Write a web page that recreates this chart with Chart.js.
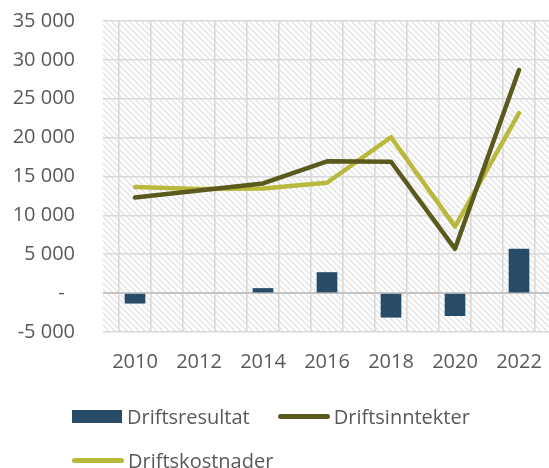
<!DOCTYPE html>
<html>
<head>
<meta charset="utf-8">
<script src="https://cdn.jsdelivr.net/npm/chart.js@4"></script>
<style>
  html, body { margin: 0; padding: 0; background: #fff; overflow: hidden; width: 549px; height: 468px; }
  #wrap { position: relative; width: 551px; height: 468px; }
  canvas { display: block; }
  #legend { position: absolute; left: 72px; top: 394px; width: 450px; display: flex; flex-wrap: wrap;
            font-family: "Open Sans", sans-serif; font-size: 20px; color: #595959; }
  .item { display: flex; align-items: center; height: 44px; margin-right: 28px; white-space: nowrap; }
  .sw { display: inline-block; margin-right: 5px; }
</style>
</head>
<body>
<div id="wrap">
  <canvas id="c" width="551" height="468"></canvas>
  <div id="legend"></div>
</div>
<script>
const years = [2010, 2012, 2014, 2016, 2018, 2020, 2022];
const driftsresultat = [-1300, null, 600, 2650, -3100, -2900, 5650];
const driftsinntekter = [12300, 13200, 14100, 16950, 16900, 5700, 28700];
const driftskostnader = [13650, 13400, 13450, 14200, 20050, 8550, 23150];
const seriesNames = ['Driftsresultat', 'Driftsinntekter', 'Driftskostnader'];
const seriesColors = ['#284B68', '#5A5A1E', '#B9B93C'];
const yMin = -5000, yMax = 35000, yStep = 5000;
const xMin = 2009, xMax = 2023;

function pts(vals) {
  return years.map((y, i) => ({ x: y, y: vals[i] })).filter(p => p.y !== null);
}

function makePattern() {
  const p = document.createElement('canvas');
  p.width = 6; p.height = 6;
  const g = p.getContext('2d');
  g.fillStyle = '#ffffff';
  g.fillRect(0, 0, 6, 6);
  g.strokeStyle = '#e2e2e2';
  g.lineWidth = 1.3;
  g.beginPath();
  g.moveTo(-1, -1); g.lineTo(7, 7);
  g.moveTo(-7, -1); g.lineTo(1, 7);
  g.moveTo(5, -1); g.lineTo(13, 7);
  g.stroke();
  return g.createPattern(p, 'repeat');
}

const bgPlugin = {
  id: 'bg',
  beforeDraw(chart) {
    const { ctx, chartArea: a } = chart;
    ctx.save();
    ctx.fillStyle = makePattern();
    ctx.fillRect(a.left, a.top, a.right - a.left, a.bottom - a.top);
    ctx.restore();
  }
};

function fmt(v) {
  if (v === 0) return '-  ';
  const s = Math.abs(v).toString().replace(/\B(?=(\d{3})+(?!\d))/g, ' ');
  return (v < 0 ? '-' : '') + s;
}

const font = { family: '"Open Sans", sans-serif', size: 20 };

new Chart(document.getElementById('c'), {
  type: 'bar',
  data: {
    datasets: [
      { type: 'bar', label: seriesNames[0], data: pts(driftsresultat), backgroundColor: seriesColors[0],
        barThickness: 20, order: 3 },
      { type: 'line', label: seriesNames[1], data: pts(driftsinntekter), borderColor: seriesColors[1],
        borderWidth: 4.5, pointRadius: 0, tension: 0, borderCapStyle: 'round', borderJoinStyle: 'round', order: 1 },
      { type: 'line', label: seriesNames[2], data: pts(driftskostnader), borderColor: seriesColors[2],
        borderWidth: 4.5, pointRadius: 0, tension: 0, borderCapStyle: 'round', borderJoinStyle: 'round', order: 2 }
    ]
  },
  options: {
    responsive: false,
    animation: false,
    layout: { autoPadding: false, padding: { top: 21, bottom: 90, left: 0, right: 0 } },
    plugins: { legend: { display: false }, tooltip: { enabled: false } },
    scales: {
      x: {
        type: 'linear', min: xMin, max: xMax, offset: false,
        grid: { color: '#d9d9d9', lineWidth: 1.6, drawTicks: false },
        border: { display: false },
        afterFit: s => { s.height = 46; s.paddingLeft = 0; s.paddingRight = 0; },
        ticks: {
          stepSize: 1, autoSkip: false, maxRotation: 0, minRotation: 0, padding: 18, color: '#595959', font,
          callback: v => (v % 2 === 0 && v >= years[0] && v <= years[years.length - 1]) ? String(v) : ''
        }
      },
      y: {
        min: yMin, max: yMax,
        grid: { color: c => c.tick && c.tick.value === 0 ? '#c4c4c4' : '#d9d9d9', lineWidth: c => c.tick && c.tick.value === 0 ? 2 : 1.6, drawTicks: false },
        border: { display: false },
        afterFit: s => { s.width = 103; s.paddingTop = 0; s.paddingBottom = 0; },
        ticks: { stepSize: yStep, padding: 28, color: '#595959', font, callback: v => fmt(v) }
      }
    }
  },
  plugins: [bgPlugin]
});

const leg = document.getElementById('legend');
seriesNames.forEach((n, i) => {
  const it = document.createElement('div');
  it.className = 'item';
  const sw = document.createElement('span');
  sw.className = 'sw';
  if (i === 0) {
    sw.style.width = '50px'; sw.style.height = '13px'; sw.style.background = seriesColors[i];
  } else {
    sw.style.width = '52px'; sw.style.height = '5px'; sw.style.borderRadius = '3px';
    sw.style.background = seriesColors[i]; sw.style.marginRight = '4px';
  }
  it.appendChild(sw);
  const t = document.createElement('span');
  t.textContent = n;
  it.appendChild(t);
  leg.appendChild(it);
});
</script>
</body>
</html>
